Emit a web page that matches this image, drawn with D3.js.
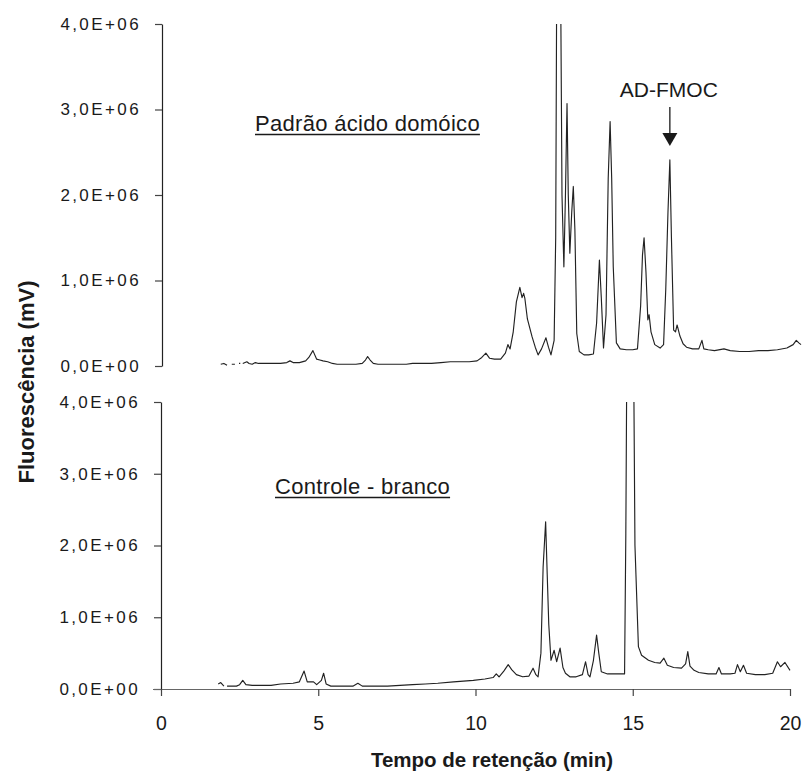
<!DOCTYPE html>
<html>
<head>
<meta charset="utf-8">
<script src="https://cdn.jsdelivr.net/npm/d3@7"></script>
<style>
  html, body { margin: 0; padding: 0; background: #fff; }
  svg { display: block; }
  text { font-family: "Liberation Sans", Arial, Helvetica, sans-serif; fill: #1a1a1a; }
</style>
</head>
<body>
<svg id="chart" width="804" height="772"></svg>
<script>
// ---------------- DATA ----------------
const xTicks = [0, 5, 10, 15, 20];
const xTickLabels = ["0", "5", "10", "15", "20"];
const yTicks = [0, 1e6, 2e6, 3e6, 4e6];
const yTickLabels = ["0,0E+00", "1,0E+06", "2,0E+06", "3,0E+06", "4,0E+06"];

const xTitle = "Tempo de retenção (min)";
const yTitle = "Fluorescência (mV)";
const topLabel = "Padrão ácido domóico";
const bottomLabel = "Controle - branco";
const peakLabel = "AD-FMOC";
const peakTime = 16.18;

// Padrão ácido domóico (null = gap in trace)
const topTime = [1.9, 2.0, 2.1, 2.17, 2.25, 2.35, 2.42, 2.48, 2.52, 2.56,
  2.6, 2.73, 2.8, 2.9, 3.0, 3.1, 3.3, 3.5, 3.8, 4.0, 4.1, 4.2, 4.4, 4.6, 4.7, 4.83, 4.95, 5.05, 5.15, 5.3,
  5.45, 5.6, 5.8, 6.0, 6.2, 6.4, 6.5, 6.57, 6.65, 6.75, 6.9, 7.2, 7.5, 7.8, 8.0, 8.3, 8.6, 8.9, 9.2, 9.5,
  9.8, 10.05, 10.2, 10.33, 10.45, 10.6, 10.8, 10.95, 11.03, 11.1, 11.2, 11.3, 11.41, 11.48, 11.53, 11.57,
  11.65, 11.8, 11.9, 11.99, 12.1, 12.24, 12.32, 12.4, 12.5, 12.55, 12.58, 12.64, 12.71, 12.75, 12.81,
  12.86, 12.91, 12.95, 13.0, 13.06, 13.11, 13.16, 13.22, 13.3, 13.45, 13.6, 13.75, 13.85, 13.94, 14.0,
  14.07, 14.15, 14.22, 14.28, 14.33, 14.38, 14.48, 14.6, 14.8, 15.0, 15.15, 15.25, 15.31, 15.36, 15.42,
  15.48, 15.52, 15.58, 15.7, 15.87, 15.98, 16.05, 16.12, 16.18, 16.23, 16.3, 16.36, 16.41, 16.5, 16.6,
  16.71, 16.9, 17.1, 17.15, 17.2, 17.26, 17.4, 17.6, 17.9, 18.1, 18.4, 18.7, 19.0, 19.3, 19.6, 19.9,
  20.1, 20.2, 20.28, 20.35];
const topSignal = [0.02e6, 0.03e6, 0.01e6, null, 0.02e6, 0.02e6, null, 0.03e6, 0.03e6, null,
  0.03e6, 0.05e6, 0.03e6, 0.02e6, 0.04e6, 0.03e6, 0.03e6, 0.03e6, 0.03e6, 0.04e6, 0.06e6, 0.04e6, 0.04e6, 0.06e6, 0.10e6, 0.18e6, 0.08e6, 0.07e6, 0.06e6, 0.05e6,
  0.03e6, 0.02e6, 0.02e6, 0.02e6, 0.02e6, 0.03e6, 0.07e6, 0.11e6, 0.07e6, 0.03e6, 0.02e6, 0.02e6, 0.02e6, 0.02e6, 0.03e6, 0.03e6, 0.03e6, 0.04e6, 0.05e6, 0.05e6,
  0.05e6, 0.06e6, 0.10e6, 0.15e6, 0.09e6, 0.08e6, 0.08e6, 0.15e6, 0.25e6, 0.20e6, 0.40e6, 0.75e6, 0.92e6, 0.80e6, 0.85e6, 0.79e6,
  0.55e6, 0.34e6, 0.22e6, 0.13e6, 0.20e6, 0.33e6, 0.22e6, 0.13e6, 0.30e6, 1.5e6, 4.3e6, 4.8e6, 4.3e6, 2.0e6, 1.16e6,
  2.0e6, 3.07e6, 2.0e6, 1.32e6, 1.8e6, 2.1e6, 1.6e6, 0.38e6, 0.17e6, 0.13e6, 0.13e6, 0.14e6, 0.5e6, 1.24e6, 0.8e6,
  0.21e6, 0.6e6, 2.2e6, 2.86e6, 2.2e6, 1.16e6, 0.27e6, 0.20e6, 0.19e6, 0.19e6, 0.20e6, 0.7e6, 1.3e6, 1.5e6, 1.1e6,
  0.54e6, 0.6e6, 0.4e6, 0.25e6, 0.21e6, 0.25e6, 0.9e6, 1.8e6, 2.41e6, 1.5e6, 0.42e6, 0.40e6, 0.48e6, 0.35e6, 0.26e6,
  0.22e6, 0.20e6, 0.20e6, 0.25e6, 0.30e6, 0.20e6, 0.19e6, 0.18e6, 0.20e6, 0.18e6, 0.17e6, 0.17e6, 0.18e6, 0.18e6, 0.19e6, 0.21e6,
  0.25e6, 0.30e6, 0.27e6, 0.25e6];

// Controle - branco
const bottomTime = [1.82, 1.9, 2.0, 2.05, 2.1, 2.3, 2.4, 2.5, 2.6, 2.7, 2.9, 3.2, 3.5, 3.8, 4.2, 4.4, 4.55, 4.65,
  4.75, 4.85, 4.95, 5.1, 5.17, 5.25, 5.4, 5.8, 6.1, 6.26, 6.4, 6.8, 7.2, 7.6, 8.0, 8.4, 8.8, 9.3, 9.93, 10.3,
  10.56, 10.66, 10.75, 10.9, 11.04, 11.15, 11.3, 11.5, 11.7, 11.83, 11.92, 11.99, 12.08, 12.15, 12.23, 12.28,
  12.33, 12.4, 12.5, 12.58, 12.69, 12.78, 12.86, 13.0, 13.2, 13.4, 13.5, 13.58, 13.64, 13.75, 13.85, 13.92,
  14.0, 14.2, 14.5, 14.74, 14.78, 14.81, 14.92, 15.03, 15.07, 15.18, 15.28, 15.5, 15.7, 15.87, 15.99, 16.1,
  16.3, 16.55, 16.68, 16.75, 16.82, 16.95, 17.1, 17.4, 17.65, 17.74, 17.82, 18.1, 18.25, 18.33, 18.42, 18.52,
  18.62, 18.9, 19.2, 19.45, 19.6, 19.7, 19.84, 20.0];
const bottomSignal = [0.07e6, 0.09e6, 0.04e6, null, 0.04e6, 0.04e6, 0.04e6, 0.06e6, 0.12e6, 0.06e6, 0.05e6, 0.05e6, 0.05e6, 0.07e6, 0.08e6, 0.10e6, 0.25e6, 0.10e6,
  0.10e6, 0.10e6, 0.06e6, 0.12e6, 0.22e6, 0.07e6, 0.04e6, 0.04e6, 0.04e6, 0.08e6, 0.04e6, 0.04e6, 0.04e6, 0.05e6, 0.06e6, 0.07e6, 0.08e6, 0.10e6, 0.12e6, 0.14e6,
  0.16e6, 0.21e6, 0.17e6, 0.25e6, 0.34e6, 0.27e6, 0.20e6, 0.17e6, 0.18e6, 0.29e6, 0.20e6, 0.17e6, 0.5e6, 1.7e6, 2.33e6, 1.6e6,
  0.9e6, 0.4e6, 0.54e6, 0.38e6, 0.57e6, 0.30e6, 0.22e6, 0.17e6, 0.17e6, 0.20e6, 0.38e6, 0.20e6, 0.17e6, 0.40e6, 0.75e6, 0.5e6,
  0.24e6, 0.21e6, 0.21e6, 0.21e6, 2.17e6, 4.5e6, 5.0e6, 4.5e6, 2.0e6, 0.59e6, 0.47e6, 0.40e6, 0.37e6, 0.36e6, 0.43e6, 0.33e6,
  0.30e6, 0.29e6, 0.35e6, 0.52e6, 0.32e6, 0.26e6, 0.23e6, 0.21e6, 0.21e6, 0.30e6, 0.21e6, 0.21e6, 0.22e6, 0.34e6, 0.24e6, 0.33e6,
  0.22e6, 0.20e6, 0.20e6, 0.22e6, 0.38e6, 0.31e6, 0.37e6, 0.26e6];

// ---------------- CHART ----------------
const svg = d3.select("#chart");
const W = 804, H = 772;
svg.append("rect").attr("width", W).attr("height", H).attr("fill", "#fff");

const x = d3.scaleLinear().domain([0, 20]).range([161, 790]);
const yTop = d3.scaleLinear().domain([0, 4e6]).range([366, 24]);
const yBot = d3.scaleLinear().domain([0, 4e6]).range([689, 402]);

const defs = svg.append("defs");
defs.append("clipPath").attr("id", "clipTop").append("rect")
  .attr("x", 0).attr("y", yTop(4e6)).attr("width", W).attr("height", yTop(0) - yTop(4e6) + 10);
defs.append("clipPath").attr("id", "clipBot").append("rect")
  .attr("x", 0).attr("y", yBot(4e6)).attr("width", W).attr("height", yBot(0) - yBot(4e6));

function styleAxis(g) {
  g.select(".domain").attr("stroke", "#222").attr("stroke-width", 1.2);
  g.selectAll(".tick line").attr("stroke", "#444").attr("stroke-width", 1.2);
}

function yAxis(scale) {
  return d3.axisLeft(scale).tickValues(yTicks).tickSize(7).tickSizeOuter(0).tickPadding(14)
    .tickFormat((d, i) => yTickLabels[i]);
}

const gyT = svg.append("g").attr("transform", `translate(${x(0) + 1},0)`).call(yAxis(yTop));
const gyB = svg.append("g").attr("transform", `translate(${x(0)},0)`).call(yAxis(yBot));
[gyT, gyB].forEach(g => {
  styleAxis(g);
  g.selectAll(".tick text")
    .attr("font-size", 17).attr("letter-spacing", "2.4px").attr("fill", "#1a1a1a")
    .attr("font-family", "'Liberation Sans', Arial, sans-serif");
});

const gx = svg.append("g").attr("transform", `translate(0,${yBot(0)})`)
  .call(d3.axisBottom(x).tickValues(xTicks).tickSize(7).tickSizeOuter(0).tickPadding(20)
    .tickFormat((d, i) => xTickLabels[i]));
styleAxis(gx);
gx.select(".domain").attr("stroke", "#666").attr("d", `M${x(0) - 8},0.5H${x(20)}`);
gx.selectAll(".tick text").attr("font-size", 19.5).attr("fill", "#1a1a1a")
  .attr("font-family", "'Liberation Sans', Arial, sans-serif");

// traces
function makeLine(yS) {
  return d3.line().defined(d => d[1] !== null).x(d => x(d[0])).y(d => yS(d[1]));
}
const topData = topTime.map((t, i) => [t, topSignal[i]]);
const botData = bottomTime.map((t, i) => [t, bottomSignal[i]]);

svg.append("path").datum(topData).attr("clip-path", "url(#clipTop)")
  .attr("fill", "none").attr("stroke", "#222").attr("stroke-width", 1.15).attr("stroke-linejoin", "round")
  .attr("d", makeLine(yTop));
svg.append("path").datum(botData).attr("clip-path", "url(#clipBot)")
  .attr("fill", "none").attr("stroke", "#222").attr("stroke-width", 1.15).attr("stroke-linejoin", "round")
  .attr("d", makeLine(yBot));

// titles
svg.append("text").attr("x", 492).attr("y", 767).attr("text-anchor", "middle")
  .attr("font-size", 20.5).attr("font-weight", "bold").text(xTitle);
svg.append("text").attr("transform", "translate(34,382) rotate(-90)").attr("text-anchor", "middle")
  .attr("font-size", 22).attr("font-weight", "bold").text(yTitle);

// underlined labels
function underlined(txt, x0, y0, size) {
  const t = svg.append("text").attr("x", x0).attr("y", y0).attr("font-size", size)
    .attr("letter-spacing", "0.3px").text(txt);
  const w = t.node().getComputedTextLength();
  svg.append("line").attr("x1", x0).attr("x2", x0 + w).attr("y1", y0 + 3.5).attr("y2", y0 + 3.5)
    .attr("stroke", "#1a1a1a").attr("stroke-width", 1.4);
}
underlined(topLabel, 255, 131, 22);
underlined(bottomLabel, 275, 494, 22);

// AD-FMOC annotation with arrow
const px = x(peakTime);
svg.append("text").attr("x", px - 1).attr("y", 97).attr("text-anchor", "middle")
  .attr("font-size", 21).text(peakLabel);
svg.append("line").attr("x1", px).attr("x2", px).attr("y1", 107).attr("y2", 134)
  .attr("stroke", "#1a1a1a").attr("stroke-width", 1.3);
svg.append("path").attr("d", `M${px - 7.5},133L${px + 7.5},133L${px},146Z`).attr("fill", "#1a1a1a");
</script>
</body>
</html>
